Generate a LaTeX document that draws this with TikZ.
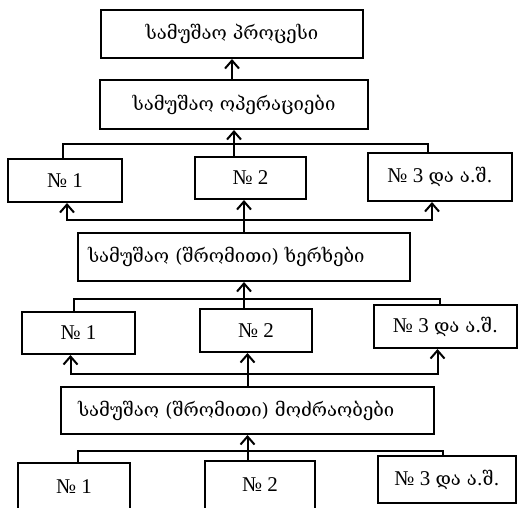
\documentclass[tikz,border=0pt]{standalone}
\usepackage{fontspec}
\setmainfont{Liberation Serif}
\newfontfamily\geofont{DejaVu Serif}
\usepackage{tikz}
\usetikzlibrary{arrows.meta, positioning, calc}

\begin{document}
\begin{tikzpicture}[
    x=1pt, y=-1pt,
    box/.style={draw, line width=2pt, inner sep=0pt, align=center,
                font=\fontsize{18.5}{22}\selectfont},
    numbox/.style={box, font=\fontsize{21}{24}\selectfont},
    link/.style={line width=2pt},
    up/.style={link, -{Straight Barb[length=8pt,width=14pt,line width=2pt]}}
]
    \clip (0,0) rectangle (518,507);
    % levels
    \node[box, minimum width=262, minimum height=48] (proc) at (232,34) {\geofont სამუშაო პროცესი};
    \node[box, minimum width=268, minimum height=49] (ops) at (234,104.5) {\geofont სამუშაო ოპერაციები};
    \node[box, minimum width=332, minimum height=48, text width=312, align=left] (khr) at (244,257)
        {\geofont სამუშაო (შრომითი) ხერხები};
    \node[box, minimum width=373, minimum height=47, text width=339, align=left] (moz) at (247.5,410.5)
        {\geofont სამუშაო (შრომითი) მოძრაობები};

    % row 1
    \node[numbox, minimum width=114, minimum height=43] (r1a) at (65,180.5) {№ 1};
    \node[numbox, minimum width=111, minimum height=42] (r1b) at (250.5,178) {№ 2};
    \node[numbox, minimum width=144, minimum height=48] (r1c) at (440,177) {№ 3 {\geofont\fontsize{18.5}{22}\selectfont და ა.შ.}};
    % row 2
    \node[numbox, minimum width=113, minimum height=42] (r2a) at (78.5,333) {№ 1};
    \node[numbox, minimum width=112, minimum height=43] (r2b) at (256,330.5) {№ 2};
    \node[numbox, minimum width=143, minimum height=43] (r2c) at (445.5,326.5) {№ 3 {\geofont\fontsize{18.5}{22}\selectfont და ა.შ.}};
    % row 3
    \node[numbox, minimum width=112, minimum height=47] (r3a) at (74,486.5) {№ 1};
    \node[numbox, minimum width=110, minimum height=48] (r3b) at (260,485) {№ 2};
    \node[numbox, minimum width=138, minimum height=47] (r3c) at (447,479.5) {№ 3 {\geofont\fontsize{18.5}{22}\selectfont და ა.შ.}};

    % buses
    \coordinate (bus1) at (0,144);
    \coordinate (bus2) at (0,220);
    \coordinate (bus3) at (0,299);
    \coordinate (bus4) at (0,374);
    \coordinate (bus5) at (0,451);

    % operations <- row 1
    \draw[link] ([xshift=-2pt]r1a.north) |- ([xshift=-12pt]r1c.north |- bus1) -- ([xshift=-12pt]r1c.north);
    \draw[up] (r1b.north -| ops.south) -- (ops.south);
    \draw[up] (proc.south |- ops.north) -- (proc.south);

    % row 1 <- khr
    \draw[up] (khr.north) -- (khr.north |- r1b.south);
    \draw[up] (khr.north |- bus2) -| ([xshift=2pt]r1a.south);
    \draw[up] (khr.north |- bus2) -| ([xshift=-8pt]r1c.south);

    % khr <- row 2
    \draw[link] ([xshift=-5pt]r2a.north) |- ([xshift=-6pt]r2c.north |- bus3) -- ([xshift=-6pt]r2c.north);
    \draw[up] (r2b.north -| khr.south) -- (khr.south);

    % row 2 <- moz
    \draw[up] (moz.north) -- (moz.north |- r2b.south);
    \draw[up] (moz.north |- bus4) -| ([xshift=-8pt]r2a.south);
    \draw[up] (moz.north |- bus4) -| ([xshift=-8pt]r2c.south);

    % moz <- row 3
    \draw[link] ([xshift=4pt]r3a.north) |- ([xshift=-4pt]r3c.north |- bus5) -- ([xshift=-4pt]r3c.north);
    \draw[up] (r3b.north -| moz.south) -- (moz.south);
\end{tikzpicture}
\end{document}
